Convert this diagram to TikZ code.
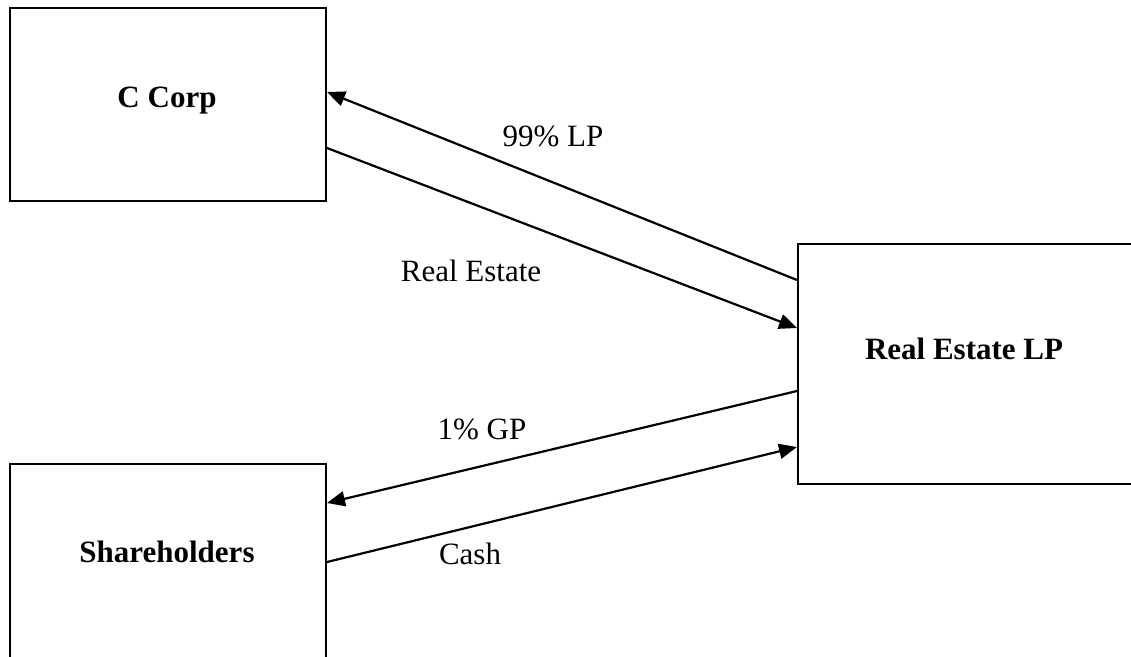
\documentclass[tikz,border=0pt]{standalone}
\usepackage{fontspec}
\setmainfont{Liberation Serif}
\usetikzlibrary{arrows.meta,calc}
\begin{document}
\begin{tikzpicture}[x=1pt,y=-1pt,
  entity/.style={draw=black, line width=2pt, inner sep=0pt, anchor=north west},
  flow/.style={line width=2.2pt, -{Triangle[length=18pt,width=15pt]}},
  txt/.style={font=\fontsize{31}{36}\selectfont, inner sep=0pt, anchor=base},
  title/.style={txt, font=\fontsize{31}{36}\selectfont\bfseries}]
\useasboundingbox (0,0) rectangle (1131,656);
% parties
\node[entity, minimum width=316pt, minimum height=193pt] (ccorp) at (9,7) {};
\node[entity, minimum width=360pt, minimum height=240pt] (relp) at (797,243) {};
\node[entity, minimum width=316pt, minimum height=200pt] (share) at (9,463) {};
\node[title] (ccorpT) at (167,107) {C Corp};
\node[title] (relpT) at (964,359) {Real Estate LP};
\node[title] (shareT) at (167,562) {Shareholders};
% anchor points on the box edges
\coordinate (p1) at ($(relp.north west)+(0,37)$);
\coordinate (q1) at ($(ccorp.north east)+(0,85)$);
\coordinate (p2) at ($(ccorp.north east)+(0,141)$);
\coordinate (q2) at ($(relp.north west)+(0,85)$);
\coordinate (p3) at ($(relp.north west)+(0,148)$);
\coordinate (q3) at ($(share.north east)+(0,40)$);
\coordinate (p4) at ($(share.north east)+(0,99)$);
\coordinate (q4) at ($(relp.north west)+(0,204)$);
% transfers
\draw[flow] (p1) -- (q1);
\draw[flow] (p2) -- (q2);
\draw[flow] (p3) -- (q3);
\draw[flow] (p4) -- (q4);
% transfer labels
\node[txt] (lp) at (553,146) {99\% LP};
\node[txt] (re) at (471,281) {Real Estate};
\node[txt] (gp) at (482,439) {1\% GP};
\node[txt] (cash) at (470,564) {Cash};
\end{tikzpicture}
\end{document}
